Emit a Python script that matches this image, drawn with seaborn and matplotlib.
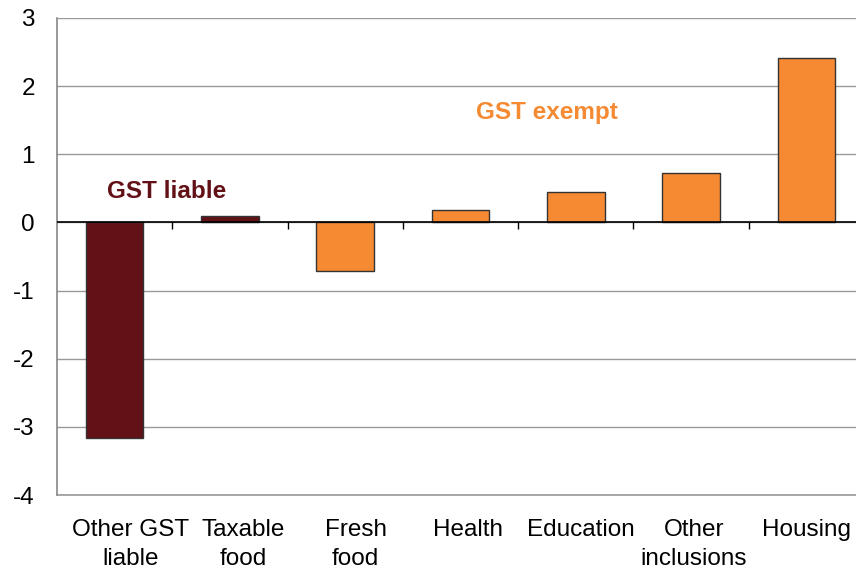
import matplotlib
matplotlib.use("Agg")
import matplotlib.pyplot as plt
import seaborn as sns
import pandas as pd

categories = ["Other GST\nliable", "Taxable\nfood", "Fresh\nfood", "Health", "Education", "Other\ninclusions", "Housing"]
values = [-3.17, 0.10, -0.72, 0.18, 0.44, 0.72, 2.42]
groups = ["liable", "liable", "exempt", "exempt", "exempt", "exempt", "exempt"]
yticks = [-4, -3, -2, -1, 0, 1, 2, 3]

sns.set_style("white")
plt.rcParams["font.family"] = ["Liberation Sans", "DejaVu Sans"]

df = pd.DataFrame({"cat": categories, "val": values, "grp": groups})
palette = {"liable": "#621116", "exempt": "#F58A33"}

fig = plt.figure(figsize=(8.56, 5.70), dpi=100)
ax = fig.add_axes([57/856, 1 - 495/570, (864 - 57)/856, (495 - 18)/570])

sns.barplot(data=df, x="cat", y="val", hue="grp", palette=palette, dodge=False, saturation=1,
            width=0.5, edgecolor="#333333", linewidth=1.0, legend=False, ax=ax, zorder=3)

ax.set_ylim(-4, 3)
ax.set_xlim(-0.5, len(categories) - 0.5)
ax.set_yticks(yticks)
ax.set_yticklabels([str(t) for t in yticks])
# category labels are spaced slightly tighter than the bars in the original
label_pos = [0.135 + i * 0.978 for i in range(len(categories))]
ax.set_xticks(label_pos)
ax.set_xticklabels(categories, linespacing=1.45)
ax.grid(axis="y", color="#999999", linewidth=1.0, zorder=0)
ax.xaxis.grid(False)
ax.set_axisbelow(True)
ax.axhline(-4, color="#999999", linewidth=1.2, clip_on=False, zorder=1)
for s in ["top", "right", "bottom"]:
    ax.spines[s].set_visible(False)
ax.spines["left"].set_color("#888888")
ax.spines["left"].set_linewidth(1.2)
ax.tick_params(axis="y", length=7, color="#888888", labelsize=17.5, pad=9, labelcolor="#000000")
ax.tick_params(axis="x", length=0, labelsize=17.5, pad=17, labelcolor="#000000")
ax.set_xlabel("")
ax.set_ylabel("")

ax.axhline(0, color="#000000", linewidth=1.2, zorder=4)
ax.vlines([i + 0.5 for i in range(len(categories) - 1)], -0.1, 0, color="#000000", linewidth=1.0, zorder=4)

ax.text(0.45, 0.46, "GST liable", color="#621116", fontsize=17.5, fontweight="bold", ha="center", va="center")
ax.text(3.75, 1.61, "GST exempt", color="#F58A33", fontsize=17.5, fontweight="bold", ha="center", va="center")

fig.savefig("out.png", dpi=100)
